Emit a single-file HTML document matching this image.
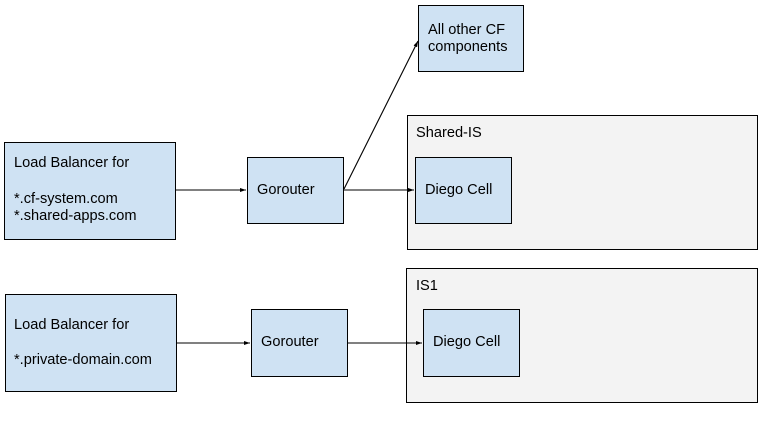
<!DOCTYPE html>
<html><head><style>
body{margin:0;width:778px;height:434px;background:#fff;position:relative;overflow:hidden;font-family:"Liberation Sans",Arial,sans-serif;font-size:14.6px;color:#000}
.b{position:absolute;box-sizing:border-box;border:1px solid #000;background:#cfe2f3}
.g{position:absolute;box-sizing:border-box;border:1px solid #000;background:#f3f3f3}
.t{position:absolute;line-height:17px;white-space:nowrap}
svg{position:absolute;left:0;top:0}
</style></head><body>
<div class="b" style="left:4px;top:142px;width:172px;height:98px"></div>
<div class="t" style="left:14px;top:155px">Load Balancer for</div>
<div class="t" style="left:14px;top:191px">*.cf-system.com<br>*.shared-apps.com</div>
<div class="b" style="left:247px;top:157px;width:97px;height:67px"></div>
<div class="t" style="left:257px;top:182px">Gorouter</div>
<div class="b" style="left:418px;top:5px;width:106px;height:67px"></div>
<div class="t" style="left:428px;top:22px">All other CF<br>components</div>
<div class="g" style="left:407px;top:115px;width:351px;height:135px"></div>
<div class="t" style="left:416px;top:125px">Shared-IS</div>
<div class="b" style="left:415px;top:157px;width:97px;height:67px"></div>
<div class="t" style="left:425px;top:182px">Diego Cell</div>

<div class="b" style="left:5px;top:294px;width:172px;height:98px"></div>
<div class="t" style="left:14px;top:317px">Load Balancer for</div>
<div class="t" style="left:14px;top:352px">*.private-domain.com</div>
<div class="b" style="left:251px;top:309px;width:97px;height:68px"></div>
<div class="t" style="left:261px;top:334px">Gorouter</div>
<div class="g" style="left:406px;top:268px;width:352px;height:135px"></div>
<div class="t" style="left:416px;top:278px">IS1</div>
<div class="b" style="left:423px;top:309px;width:97px;height:68px"></div>
<div class="t" style="left:433px;top:334px">Diego Cell</div>

<svg width="778" height="434">
<defs><marker id="a" markerWidth="6" markerHeight="4" refX="6" refY="2" orient="auto" markerUnits="userSpaceOnUse"><path d="M0,0L6,2L0,4z" fill="#000"/></marker></defs>
<g stroke="#000" stroke-width="1.1" fill="none">
<line x1="176" y1="190" x2="246" y2="190" marker-end="url(#a)"/>
<line x1="344" y1="190" x2="414" y2="190" marker-end="url(#a)"/>
<line x1="344" y1="189" x2="418" y2="41" marker-end="url(#a)"/>
<line x1="177" y1="343" x2="250" y2="343" marker-end="url(#a)"/>
<line x1="348" y1="343" x2="422" y2="343" marker-end="url(#a)"/>
</g></svg>
</body></html>
